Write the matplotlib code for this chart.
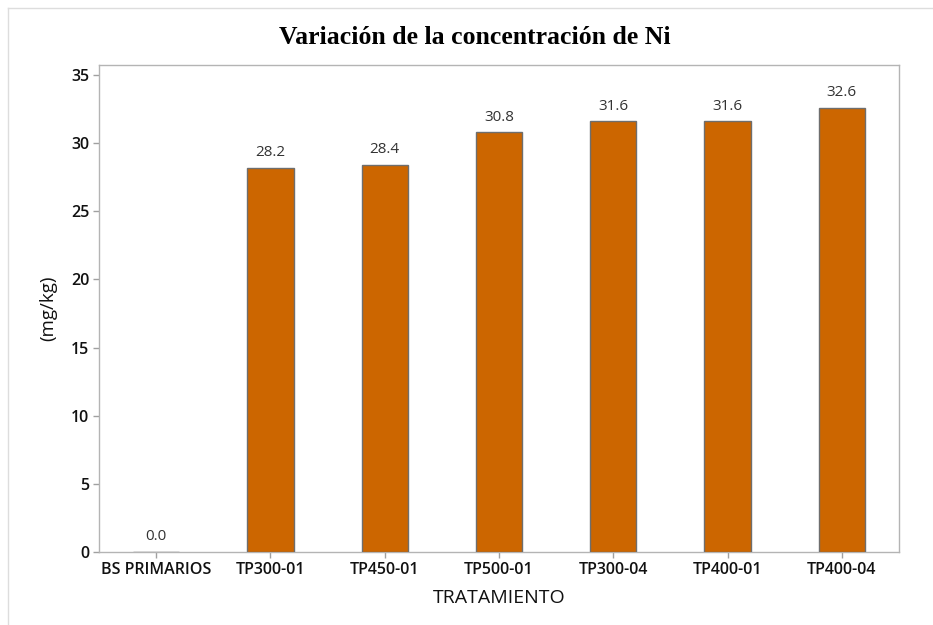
import matplotlib
matplotlib.use("Agg")
import matplotlib.pyplot as plt
from matplotlib.lines import Line2D

categories = ["BS PRIMARIOS", "TP300-01", "TP450-01", "TP500-01", "TP300-04", "TP400-01", "TP400-04"]
values = [0.0, 28.2, 28.4, 30.8, 31.6, 31.6, 32.6]
yticks = [0, 5, 10, 15, 20, 25, 30, 35]

W, H = 933, 625
fig = plt.figure(figsize=(W / 100, H / 100), dpi=100)
ax = fig.add_axes([99 / W, 1 - 552 / H, 800 / W, (552 - 65) / H])

x = list(range(len(categories)))
ax.bar(x, values, width=0.405, color="#CC6600", edgecolor="#6E6E6E", linewidth=1.0, zorder=3)
for xi, v in zip(x, values):
    ax.annotate(f"{v:.1f}", (xi, v), xytext=(0, 5.5), textcoords="offset points",
                ha="center", va="bottom", fontsize=11, color="#333333", family="Open Sans")

ax.set_xlim(-0.5, len(categories) - 0.5)
ax.set_ylim(0, 35.73)
ax.set_xticks(x)
ax.set_xticklabels(categories, family="Open Sans", fontsize=11.5, fontweight="semibold", color="#111111")
ax.set_yticks(yticks)
ax.set_yticklabels([str(t) for t in yticks], family="Open Sans", fontsize=11.5, fontweight="semibold", color="#111111")
for s in ax.spines.values():
    s.set_color("#B4B4B4")
    s.set_linewidth(1.0)
ax.tick_params(axis="both", color="#A0A0A0", length=4, width=1, pad=3)

ax.set_xlabel("TRATAMIENTO", family="Open Sans", fontsize=14, color="#111111", labelpad=8)
ax.set_ylabel("(mg/kg)", family="Open Sans", fontsize=13.5, color="#111111", labelpad=10)

fig.text(475 / W, 1 - 38 / H, "Variación de la concentración de Ni", ha="center", va="center",
         family="Liberation Serif", fontweight="bold", fontsize=18.5, color="#000000")

# outer frame lines (top and left)
fig.add_artist(Line2D([8 / W, 1], [1 - 8 / H, 1 - 8 / H], color="#DDDDDD", lw=1, transform=fig.transFigure))
fig.add_artist(Line2D([8 / W, 8 / W], [0, 1 - 8 / H], color="#DDDDDD", lw=1, transform=fig.transFigure))

fig.savefig("out.png", dpi=100)
